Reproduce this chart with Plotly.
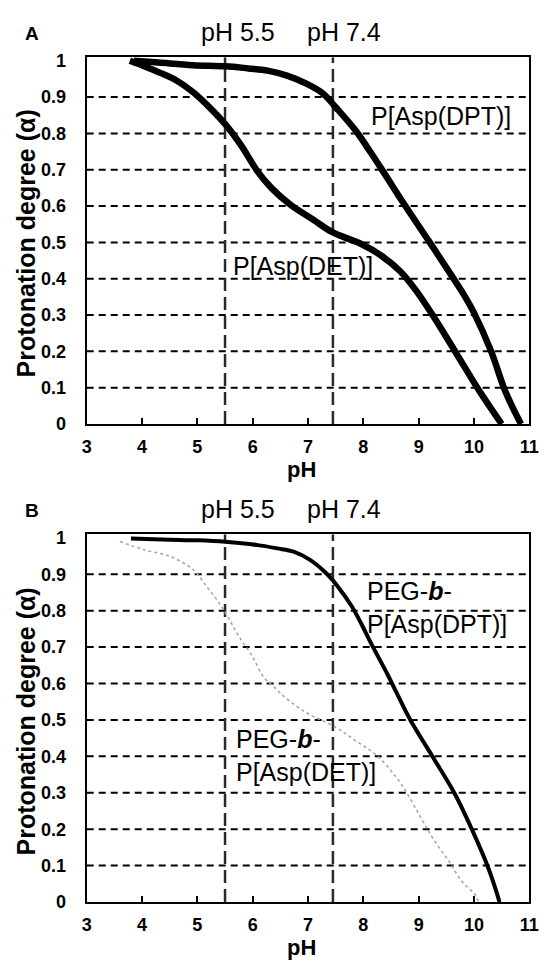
import plotly.graph_objects as go

# ---------------- data ----------------
# Panel A
ph_det_a = [3.78, 4.04, 4.34, 4.63, 4.92, 5.21, 5.51, 5.8, 6.08, 6.35, 6.68, 7.09, 7.44,
            7.97, 8.32, 8.67, 8.96, 9.26, 9.67, 10.08, 10.5]
alpha_det_a = [1.0, 0.985, 0.966, 0.945, 0.914, 0.873, 0.824, 0.765, 0.697, 0.648, 0.604, 0.563,
               0.528, 0.495, 0.464, 0.42, 0.366, 0.298, 0.197, 0.095, 0.0]
ph_dpt_a = [3.85, 4.3, 4.92, 5.51, 5.92, 6.27, 6.62, 6.97, 7.27, 7.5, 7.85, 8.14, 8.38, 8.73,
            9.2, 9.61, 9.8, 10.0, 10.31, 10.54, 10.7, 10.85]
alpha_dpt_a = [1.0, 0.995, 0.988, 0.985, 0.979, 0.973, 0.959, 0.937, 0.91, 0.872, 0.81, 0.746,
               0.69, 0.607, 0.5, 0.405, 0.36, 0.306, 0.2, 0.1, 0.045, 0.0]
# Panel B
ph_dpt_b = [3.8, 4.5, 5.0, 5.5, 6.09, 6.44, 6.74, 7.03, 7.32, 7.53, 7.79, 7.97, 8.14, 8.44, 8.6,
            8.85, 9.26, 9.65, 9.96, 10.25, 10.38, 10.46]
alpha_dpt_b = [0.998, 0.995, 0.993, 0.989, 0.98, 0.971, 0.962, 0.94, 0.904, 0.868, 0.812, 0.762,
               0.71, 0.624, 0.575, 0.5, 0.397, 0.298, 0.2, 0.097, 0.04, 0.0]
ph_det_b = [3.6, 4.04, 4.51, 4.92, 5.16, 5.39, 5.57, 5.74, 5.98, 6.21, 6.39, 6.56, 6.97, 7.5,
            7.85, 8.26, 8.67, 9.02, 9.26, 9.55, 9.78, 10.02, 10.08]
alpha_det_b = [0.99, 0.967, 0.949, 0.913, 0.868, 0.822, 0.778, 0.732, 0.678, 0.615, 0.59, 0.565,
               0.52, 0.48, 0.444, 0.4, 0.327, 0.237, 0.174, 0.111, 0.057, 0.02, 0.0]

reference_ph = [5.5, 7.45]
reference_labels = ["pH 5.5", "pH 7.4"]
x_ticks = [3, 4, 5, 6, 7, 8, 9, 10, 11]
y_ticks = [0, 0.1, 0.2, 0.3, 0.4, 0.5, 0.6, 0.7, 0.8, 0.9, 1]
y_tick_text = ["0", "0.1", "0.2", "0.3", "0.4", "0.5", "0.6", "0.7", "0.8", "0.9", "1"]
grid_levels = [0.1, 0.2, 0.3, 0.4, 0.5, 0.6, 0.7, 0.8, 0.9]

# ---------------- figure ----------------
W, H = 551, 974
FONT = "Liberation Sans, Arial, sans-serif"
B_OFF = 485  # vertical offset of panel B relative to panel A (pixels)


def px_x(p):
    return p / W


def px_y(p):
    return 1 - p / H


fig = go.Figure()

fig.add_trace(go.Scatter(x=ph_det_a, y=alpha_det_a, mode="lines",
                         line=dict(color="black", width=6.5, shape="spline"),
                         xaxis="x", yaxis="y", showlegend=False))
fig.add_trace(go.Scatter(x=ph_dpt_a, y=alpha_dpt_a, mode="lines",
                         line=dict(color="black", width=6.5, shape="spline"),
                         xaxis="x", yaxis="y", showlegend=False))
fig.add_trace(go.Scatter(x=ph_det_b, y=alpha_det_b, mode="lines",
                         line=dict(color="#a8a8a8", width=1.6, shape="spline", dash="dot"),
                         xaxis="x2", yaxis="y2", showlegend=False))
fig.add_trace(go.Scatter(x=ph_dpt_b, y=alpha_dpt_b, mode="lines",
                         line=dict(color="black", width=4, shape="spline"),
                         xaxis="x2", yaxis="y2", showlegend=False))

xdom = [px_x(84), px_x(539)]
tick_font = dict(family=FONT, size=18, color="black", weight="bold")
common_x = dict(range=[3, 11], tickvals=x_ticks, ticks="inside", ticklen=6, tickwidth=1.5,
                tickcolor="black", showline=True, mirror=True, linecolor="black", linewidth=2,
                showgrid=False, zeroline=False, tickfont=tick_font, ticklabelstandoff=5)
common_y = dict(range=[0, 1.01], tickvals=y_ticks, ticktext=y_tick_text, ticks="", showline=True,
                mirror=True, linecolor="black", linewidth=2, showgrid=False, zeroline=False,
                tickfont=tick_font, ticklabelstandoff=15)

fig.update_layout(
    width=W, height=H, margin=dict(l=0, r=0, t=0, b=0),
    paper_bgcolor="white", plot_bgcolor="white",
    xaxis=dict(domain=xdom, anchor="y", **common_x),
    yaxis=dict(domain=[px_y(425), px_y(52)], anchor="x", **common_y),
    xaxis2=dict(domain=xdom, anchor="y2", **common_x),
    yaxis2=dict(domain=[px_y(425 + B_OFF + 1), px_y(52 + B_OFF)], anchor="x2", **common_y),
)

shapes = []
for xa, ya in [("x", "y"), ("x2", "y2")]:
    for g in grid_levels:
        shapes.append(dict(type="line", xref=xa, yref=ya, x0=3, x1=11, y0=g, y1=g, layer="between",
                           line=dict(color="black", width=2, dash="7px,5px")))
    for r in reference_ph:
        shapes.append(dict(type="line", xref=xa, yref=ya, x0=r, x1=r, y0=0, y1=1.01, layer="between",
                           line=dict(color="#2a2a2a", width=2.5, dash="13px,6px")))
fig.update_layout(shapes=shapes)

ann = []
ann_font = dict(family=FONT, size=25, color="black")


def add_ann(**kw):
    kw.setdefault("showarrow", False)
    kw.setdefault("xanchor", "center")
    kw.setdefault("yanchor", "middle")
    ann.append(kw)


# panel letters
for lab, off in [("A", 0), ("B", B_OFF)]:
    add_ann(text="<b>%s</b>" % lab, x=px_x(28), y=px_y(28 + off), xref="paper", yref="paper",
            font=dict(family=FONT, size=19, color="black"))
# pH markers above panels
for off in [0, B_OFF]:
    for xc, lab in zip([240, 349], reference_labels):
        add_ann(text=lab, x=px_x(xc), y=px_y(26 + off), xref="paper", yref="paper", font=ann_font)
# curve labels, panel A
add_ann(text="P[Asp(DPT)]", x=8.1, y=0.849, xref="x", yref="y", xanchor="left", font=ann_font)
add_ann(text="P[Asp(DET)]", x=5.6, y=0.435, xref="x", yref="y", xanchor="left", font=ann_font)
# curve labels, panel B
add_ann(text="PEG-<b><i>b</i></b>-<br>P[Asp(DPT)]", x=8.03, y=0.808, xref="x2", yref="y2",
        xanchor="left", align="left", font=ann_font)
add_ann(text="PEG-<b><i>b</i></b>-<br>P[Asp(DET)]", x=5.67, y=0.403, xref="x2", yref="y2",
        xanchor="left", align="left", font=ann_font)
# axis titles
for off in [0, B_OFF + 1]:
    add_ann(text="<b>pH</b>", x=px_x(305), y=px_y(471 + off), xref="paper", yref="paper",
            font=dict(family=FONT, size=22, color="black"))
    add_ann(text="<b>Protonation degree (α)</b>", x=px_x(22), y=px_y(241 + off), xref="paper",
            yref="paper", textangle=-90, font=dict(family=FONT, size=25, color="black"))
fig.update_layout(annotations=ann)

fig.write_html("out.html", config={"displayModeBar": False},
               post_script="document.body.style.margin='0px';")
